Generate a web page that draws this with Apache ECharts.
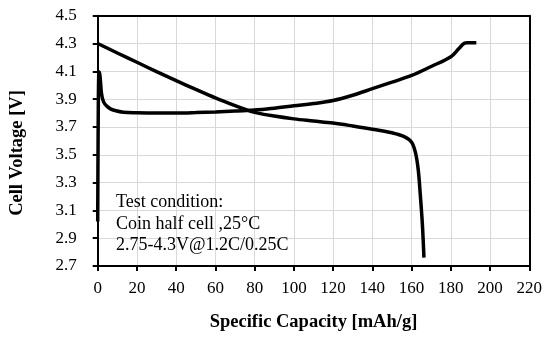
<!DOCTYPE html>
<html>
<head>
<meta charset="utf-8">
<script src="https://cdn.jsdelivr.net/npm/echarts@6/dist/echarts.min.js"></script>
<style>
  html, body { margin: 0; padding: 0; background: #fff; }
  #chart { width: 556px; height: 337px; }
</style>
</head>
<body>
<div id="chart"></div>
<script>
// Charge curve: specific capacity (mAh/g) and cell voltage (V)
const chargeCapacity = [0, 0.2, 0.5, 0.9, 1.4, 2.0, 3.0, 4.6, 6.5, 8.8, 13, 20, 30, 40, 50, 60, 70, 76, 80, 90, 100, 110, 120, 130, 140, 150, 160, 170, 180, 184, 187, 188.5, 193];
const chargeVoltage  = [3.02, 3.60, 4.07, 4.095, 4.03, 3.935, 3.88, 3.85, 3.83, 3.818, 3.806, 3.802, 3.80, 3.80, 3.803, 3.808, 3.814, 3.818, 3.822, 3.835, 3.852, 3.868, 3.89, 3.928, 3.975, 4.022, 4.07, 4.135, 4.205, 4.262, 4.303, 4.306, 4.306];

// Discharge curve
const dischargeCapacity = [0, 10, 20, 30, 40, 50, 60, 70, 76, 80, 90, 100, 110, 120, 130, 140, 150, 156, 160, 162, 163.4, 164.5, 165.5, 166.3];
const dischargeVoltage  = [4.30, 4.232, 4.165, 4.098, 4.033, 3.97, 3.909, 3.853, 3.822, 3.805, 3.778, 3.758, 3.743, 3.728, 3.707, 3.684, 3.658, 3.632, 3.59, 3.513, 3.39, 3.20, 3.00, 2.76];

// Axis ranges and tick steps
const xMin = 0, xMax = 220, xStep = 20;
const yMin = 2.7, yMax = 4.5, yStep = 0.2;

// Axis titles and annotation lines
const xTitle = 'Specific Capacity [mAh/g]';
const yTitle = 'Cell Voltage [V]';
const noteLines = ['Test condition:', 'Coin half cell ,25°C', '2.75-4.3V@1.2C/0.25C'];

const pairs = (xs, ys) => xs.map((x, i) => [x, ys[i]]);
const serif = '"Liberation Serif", "Times New Roman", serif';
const black = '#000';

// Plain axis used only to close the frame on the top and right sides
const frameAxis = (extra) => Object.assign({
  type: 'value',
  axisLine: { show: true, onZero: false, lineStyle: { color: black, width: 2 } },
  axisTick: { show: false }, axisLabel: { show: false }, splitLine: { show: false }
}, extra);

const chart = echarts.init(document.getElementById('chart'), null, { renderer: 'canvas' });
chart.setOption({
  animation: false,
  backgroundColor: '#fff',
  grid: { left: 97.7, right: 26.7, top: 15.7, bottom: 70.3 },
  xAxis: [
    {
      type: 'value', min: xMin, max: xMax, interval: xStep,
      name: xTitle, nameLocation: 'middle', nameGap: 47,
      nameTextStyle: { fontFamily: serif, fontWeight: 'bold', fontSize: 18.5, color: black },
      axisLine: { show: true, onZero: false, lineStyle: { color: black, width: 2 } },
      axisTick: { show: true, inside: false, length: 5, lineStyle: { color: black, width: 2 } },
      axisLabel: { fontFamily: serif, fontSize: 17, color: black, margin: 14 },
      splitLine: { show: true, lineStyle: { color: '#d9d9d9', width: 1 } }
    },
    frameAxis({ position: 'top', min: xMin, max: xMax })
  ],
  yAxis: [
    {
      type: 'value', min: yMin, max: yMax, interval: yStep,
      axisLine: { show: true, onZero: false, lineStyle: { color: black, width: 2 } },
      axisTick: { show: true, inside: false, length: 5, lineStyle: { color: black, width: 2 } },
      axisLabel: { fontFamily: serif, fontSize: 17, color: black, margin: 21,
                   formatter: v => v.toFixed(1) },
      splitLine: { show: true, lineStyle: { color: '#d9d9d9', width: 1 } }
    },
    frameAxis({ position: 'right', min: yMin, max: yMax })
  ],
  series: [
    {
      name: 'Charge', type: 'line', data: pairs(chargeCapacity, chargeVoltage),
      showSymbol: false, smooth: 0.35,
      lineStyle: { color: black, width: 3.5 }, z: 3
    },
    {
      name: 'Discharge', type: 'line', data: pairs(dischargeCapacity, dischargeVoltage),
      showSymbol: false, smooth: 0.35,
      lineStyle: { color: black, width: 3.5 }, z: 3
    }
  ],
  graphic: [
    {
      type: 'text', x: 17.5, y: 153, rotation: Math.PI / 2, z: 10,
      style: { text: yTitle, fontFamily: serif, fontWeight: 'bold', fontSize: 18.5,
               fill: black, align: 'center', verticalAlign: 'middle' }
    }
  ].concat(noteLines.map((t, i) => ({
    type: 'text', left: 116, top: 193 + i * 21.8, z: 10,
    style: { text: t, fontFamily: serif, fontSize: 18, fill: black }
  })))
});
</script>
</body>
</html>
